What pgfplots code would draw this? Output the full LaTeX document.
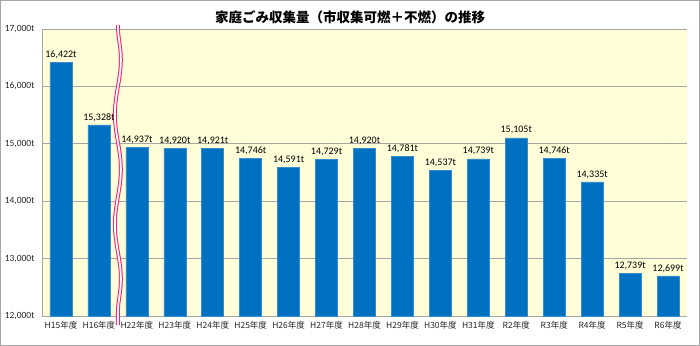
\documentclass[border=0pt]{standalone}
\usepackage{pgfplots}
\pgfplotsset{compat=1.18}
\usepackage{fontspec}
\setmainfont{Carlito}
\newfontfamily\jp{Noto Sans CJK JP}
\usetikzlibrary{decorations.pathmorphing,calc}
\definecolor{barblue}{HTML}{0070C0}
\definecolor{bgyellow}{HTML}{FFFED8}
\definecolor{gridgray}{HTML}{A6A6A6}
\definecolor{breakpink}{HTML}{FF1A6E}
\begin{document}
\begin{tikzpicture}
\begin{axis}[
  name=ax,
  scale only axis,
  width=645bp, height=287bp,
  xmin=-0.5, xmax=16.5,
  ymin=12000, ymax=17000,
  ytick={12000,13000,14000,15000,16000,17000},
  scaled y ticks=false,
  yticklabel={\pgfmathprintnumber[fixed,precision=0,1000 sep={,}]{\tick}t},
  /pgf/number format/assume math mode=true,
  yticklabel style={font=\fontsize{9.5bp}{10bp}\selectfont, text=black!85, xshift=-4bp},
  xtick=data,
  xticklabels={H15年度,H16年度,H22年度,H23年度,H24年度,H25年度,H26年度,H27年度,H28年度,H29年度,H30年度,H31年度,R2年度,R3年度,R4年度,R5年度,R6年度},
  xticklabel style={font=\jp\fontsize{8.5bp}{10bp}\selectfont, text=black!85, yshift=-2bp},
  major tick length=0pt,
  axis x line*=bottom,
  axis y line*=left,
  axis line style={gridgray, line width=0.8bp},
  ymajorgrids,
  grid style={gridgray, line width=0.8bp},
  axis background/.style={fill=bgyellow},
  ybar, bar width=22bp,
  clip=false,
  nodes near coords={\pgfmathprintnumber[fixed,precision=0,1000 sep={,}]{\pgfplotspointmeta}t},
  nodes near coords style={font=\fontsize{10bp}{11bp}\selectfont, text=black, anchor=south, yshift=0bp, /pgf/number format/assume math mode=true},
]
\addplot[fill=barblue, draw=barblue!80!white, line width=0.5bp] coordinates {
(0,16422) (1,15328) (2,14937) (3,14920) (4,14921) (5,14746) (6,14591) (7,14729)
(8,14920) (9,14781) (10,14537) (11,14739) (12,15105) (13,14746) (14,14335)
(15,12739) (16,12699)};
\draw[breakpink, line width=1bp, double=white, double distance=1.8bp,
  decorate, decoration={snake, segment length=110bp, amplitude=3bp}]
  (axis cs:1.5,17070) -- (axis cs:1.5,11840);
\end{axis}
\node[font=\jp\bfseries\fontsize{13.5bp}{15bp}\selectfont] at ($(ax.north west)+(308bp,12bp)$) {家庭ごみ収集量（市収集可燃＋不燃）の推移};
\pgfresetboundingbox
\draw[gray!70, line width=1bp] ($(ax.south west)+(-41.5bp,-29.5bp)$) rectangle ($(ax.north east)+(12.5bp,28.5bp)$);
\path[use as bounding box] ($(ax.south west)+(-42bp,-30bp)$) rectangle ($(ax.north east)+(13bp,29bp)$);
\end{tikzpicture}
\end{document}
